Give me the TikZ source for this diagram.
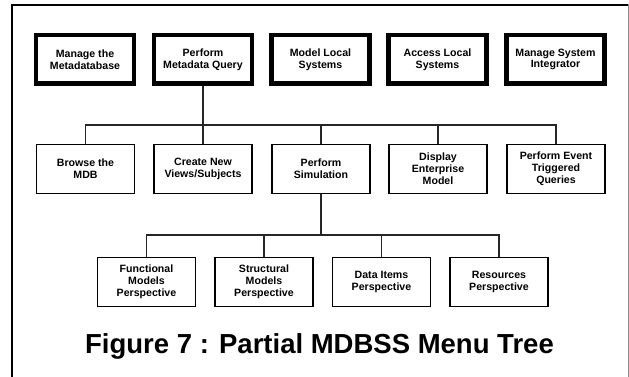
\documentclass[tikz,border=0pt]{standalone}
\usepackage{fontspec}
\setmainfont{Liberation Sans}
\begin{document}
\begin{tikzpicture}[x=1pt,y=-1pt,
  menutext/.style={align=center,inner sep=0pt,
    font=\fontsize{10.6}{11.8}\selectfont\bfseries},
  topbox/.style={menutext,draw,line width=4.5pt,minimum width=98pt,minimum height=48.5pt},
  subbox/.style={menutext,draw,line width=1.3pt,minimum width=98pt,minimum height=49pt},
  link/.style={line width=1.2pt,draw=black!85}]
\useasboundingbox (0,0) rectangle (629,377);
% page frame
\draw[line width=2.2pt] (11.7,377) -- (11.7,5) -- (627.5,5);
\draw[line width=1pt,black!45] (628.3,4) -- (628.3,377);

% top-level menu
\node[topbox] (mm) at (85,59.5) {Manage the\\Metadatabase};
\node[topbox] (pq) at (203,59.5) {Perform\\Metadata Query};
\node[topbox] (ml) at (320.5,59.5) {Model Local\\Systems};
\node[topbox] (al) at (437.5,59.5) {Access Local\\Systems};
\node[topbox] (ms) at (555.5,59.5) {Manage System\\Integrator};

% query submenu
\node[subbox] (bm) at (85.5,169) {Browse the\\MDB};
\node[subbox] (cv) at (203,169) {Create New\\Views/Subjects};
\node[subbox] (ps) at (321,169) {Perform\\Simulation};
\node[subbox] (de) at (438,169) {Display\\Enterprise\\Model};
\node[subbox] (pe) at (556,169) {Perform Event\\Triggered\\Queries};

% simulation submenu
\node[subbox] (fm) at (146.5,282) {Functional\\Models\\Perspective};
\node[subbox] (sm) at (264,282) {Structural\\Models\\Perspective};
\node[subbox] (di) at (381.5,282) {Data Items\\Perspective};
\node[subbox] (rp) at (499,282) {Resources\\Perspective};

% connectors
\coordinate (bus1) at (0,125);
\coordinate (bus2) at (0,235);
\draw[link] (pq.south) -- (pq.south |- bus1);
\draw[link] (bm.north) -- (bm.north |- bus1) -- (pe.north |- bus1) -- (pe.north);
\foreach \n in {cv,ps,de} \draw[link] (\n.north) -- (\n.north |- bus1);
\draw[link] (ps.south) -- (ps.south |- bus2);
\draw[link] (fm.north) -- (fm.north |- bus2) -- (rp.north |- bus2) -- (rp.north);
\foreach \n in {sm,di} \draw[link] (\n.north) -- (\n.north |- bus2);

% caption
\node[anchor=base,inner sep=0pt,font=\fontsize{27.5}{30}\selectfont\bfseries] (cap) at (319.5,353)
  {Figure 7 : Partial MDBSS Menu Tree};
\end{tikzpicture}
\end{document}
